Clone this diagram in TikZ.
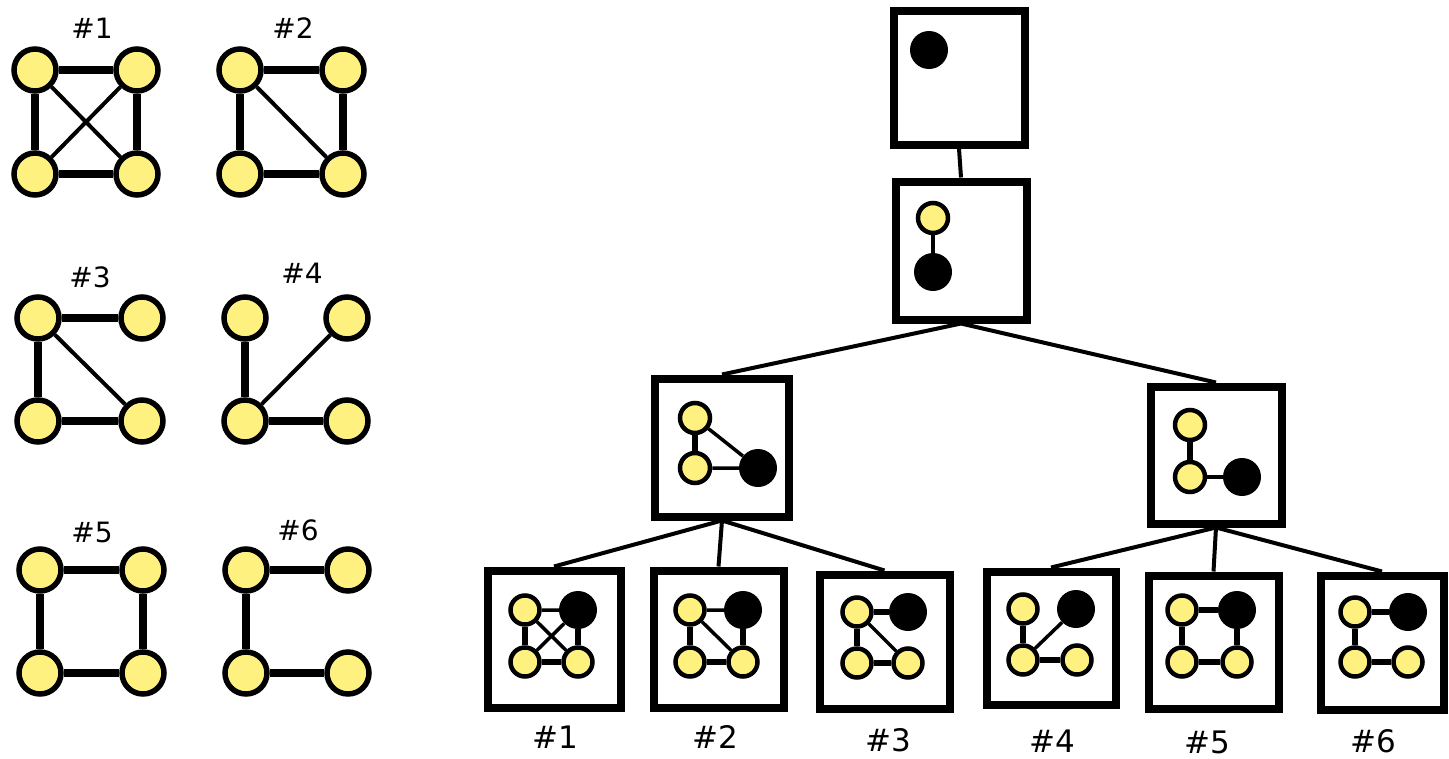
\documentclass[tikz,border=0pt]{standalone}
\usepackage{fontspec}
\setmainfont{DejaVu Sans}
\definecolor{yel}{RGB}{255,241,128}
\begin{document}
\begin{tikzpicture}[x=1pt,y=-1pt,
  bignode/.style={circle,draw,line width=5.5pt,fill=yel,minimum size=42pt,inner sep=0pt},
  smallnode/.style={circle,draw,line width=4.5pt,fill=yel,minimum size=29pt,inner sep=0pt},
  midnode/.style={circle,draw,line width=4.5pt,fill=yel,minimum size=30pt,inner sep=0pt},
  blacknode/.style={circle,fill=black,minimum size=38pt,inner sep=0pt},
  bigthick/.style={line width=7.5pt},
  bigthin/.style={line width=4pt},
  smthick/.style={line width=5.5pt},
  smthin/.style={line width=3.5pt},
  treebox/.style={draw,line width=8pt,rectangle,inner sep=0pt,fill=white},
  conn/.style={line width=4pt},
  lbl/.style={font=\fontsize{28}{30}\selectfont,inner sep=0pt},
  blbl/.style={font=\fontsize{31}{34}\selectfont,inner sep=0pt}]
\useasboundingbox (0,0) rectangle (1449,758);

% ---------- left panel ----------
% #1
\node[lbl] (l1) at (92,28) {\#1};
\node[bignode] (a1) at (35,70) {};
\node[bignode] (b1) at (137,70) {};
\node[bignode] (c1) at (35,174) {};
\node[bignode] (d1) at (137,174) {};
\draw[bigthick] (a1) -- (b1) (c1) -- (d1) (a1) -- (c1) (b1) -- (d1);
\draw[bigthin] (a1) -- (d1) (b1) -- (c1);
% #2
\node[lbl] (l2) at (293,28) {\#2};
\node[bignode] (a2) at (240,70) {};
\node[bignode] (b2) at (343,70) {};
\node[bignode] (c2) at (240,174) {};
\node[bignode] (d2) at (343,174) {};
\draw[bigthick] (a2) -- (b2) (c2) -- (d2) (a2) -- (c2) (b2) -- (d2);
\draw[bigthin] (a2) -- (d2);
% #3
\node[lbl] (l3) at (90,277) {\#3};
\node[bignode] (a3) at (38,318) {};
\node[bignode] (b3) at (142,318) {};
\node[bignode] (c3) at (38,421) {};
\node[bignode] (d3) at (142,421) {};
\draw[bigthick] (a3) -- (b3) (c3) -- (d3) (a3) -- (c3);
\draw[bigthin] (a3) -- (d3);
% #4
\node[lbl] (l4) at (302,273) {\#4};
\node[bignode] (a4) at (245,318) {};
\node[bignode] (b4) at (347,318) {};
\node[bignode] (c4) at (245,421) {};
\node[bignode] (d4) at (347,421) {};
\draw[bigthick] (a4) -- (c4) (c4) -- (d4);
\draw[bigthin] (c4) -- (b4);
% #5
\node[lbl] (l5) at (92,532) {\#5};
\node[bignode] (a5) at (40,570) {};
\node[bignode] (b5) at (143,570) {};
\node[bignode] (c5) at (40,673) {};
\node[bignode] (d5) at (143,673) {};
\draw[bigthick] (a5) -- (b5) (c5) -- (d5) (a5) -- (c5) (b5) -- (d5);
% #6
\node[lbl] (l6) at (298,530) {\#6};
\node[bignode] (a6) at (246,570) {};
\node[bignode] (b6) at (348,570) {};
\node[bignode] (c6) at (246,673) {};
\node[bignode] (d6) at (348,673) {};
\draw[bigthick] (a6) -- (b6) (c6) -- (d6) (a6) -- (c6);

% ---------- tree boxes ----------
\node[treebox,minimum width=131pt,minimum height=134pt] (t0) at (959,77.5) {};
\node[treebox,minimum width=131pt,minimum height=138pt] (t1) at (961,250.5) {};
\node[treebox,minimum width=134pt,minimum height=138pt] (tL) at (722,447.5) {};
\node[treebox,minimum width=131pt,minimum height=137pt] (tR) at (1216,455) {};
\node[treebox,minimum width=133pt,minimum height=137pt] (s1) at (554,639) {};
\node[treebox,minimum width=130pt,minimum height=137pt] (s2) at (718.5,639) {};
\node[treebox,minimum width=130pt,minimum height=134pt] (s3) at (884.5,641.5) {};
\node[treebox,minimum width=129pt,minimum height=133pt] (s4) at (1051,638) {};
\node[treebox,minimum width=130pt,minimum height=133pt] (s5) at (1213.5,642) {};
\node[treebox,minimum width=123pt,minimum height=134pt] (s6) at (1382,642.5) {};

% connectors
\draw[conn] (t0.south) -- (t1.north);
\draw[conn] (t1.south) -- (tL.north);
\draw[conn] (t1.south) -- (tR.north);
\draw[conn] (tL.south) -- (s1.north);
\draw[conn] (tL.south) -- (s2.north);
\draw[conn] (tL.south) -- (s3.north);
\draw[conn] (tR.south) -- (s4.north);
\draw[conn] (tR.south) -- (s5.north);
\draw[conn] (tR.south) -- (s6.north);

% top box content
\node[blacknode] (k0) at (929,50) {};
% second box
\node[midnode] (y1) at (933,218) {};
\node[blacknode] (k1) at (933,272) {};
\draw[smthin] (y1) -- (k1);
% left middle box
\node[midnode] (yLa) at (695,418) {};
\node[midnode] (yLb) at (695,468) {};
\node[blacknode] (kL) at (758,468) {};
\draw[smthick] (yLa) -- (yLb);
\draw[smthin] (yLa) -- (kL) (yLb) -- (kL);
% right middle box
\node[midnode] (yRa) at (1190,425) {};
\node[midnode] (yRb) at (1190,477) {};
\node[blacknode] (kR) at (1242,477) {};
\draw[smthick] (yRa) -- (yRb);
\draw[smthin] (yRb) -- (kR);

% bottom #1
\node[smallnode] (p1a) at (525,610) {};
\node[blacknode] (p1b) at (578,610) {};
\node[smallnode] (p1c) at (525,662) {};
\node[smallnode] (p1d) at (578,662) {};
\draw[smthin] (p1a) -- (p1b) (p1a) -- (p1d) (p1b) -- (p1c);
\draw[smthick] (p1a) -- (p1c) (p1b) -- (p1d) (p1c) -- (p1d);
\node[blbl] (q1) at (555,737) {\#1};
% bottom #2
\node[smallnode] (p2a) at (690,610) {};
\node[blacknode] (p2b) at (743,610) {};
\node[smallnode] (p2c) at (690,662) {};
\node[smallnode] (p2d) at (743,662) {};
\draw[smthin] (p2a) -- (p2b) (p2a) -- (p2d);
\draw[smthick] (p2a) -- (p2c) (p2b) -- (p2d) (p2c) -- (p2d);
\node[blbl] (q2) at (715,737) {\#2};
% bottom #3
\node[smallnode] (p3a) at (857,612) {};
\node[blacknode] (p3b) at (908,612) {};
\node[smallnode] (p3c) at (857,663) {};
\node[smallnode] (p3d) at (908,663) {};
\draw[smthin] (p3a) -- (p3d);
\draw[smthick] (p3a) -- (p3b) (p3a) -- (p3c) (p3c) -- (p3d);
\node[blbl] (q3) at (888,740) {\#3};
% bottom #4
\node[smallnode] (p4a) at (1023,609) {};
\node[blacknode] (p4b) at (1076,609) {};
\node[smallnode] (p4c) at (1023,660) {};
\node[smallnode] (p4d) at (1077,660) {};
\draw[smthin] (p4c) -- (p4b);
\draw[smthick] (p4a) -- (p4c) (p4c) -- (p4d);
\node[blbl] (q4) at (1052,741) {\#4};
% bottom #5
\node[smallnode] (p5a) at (1182,610) {};
\node[blacknode] (p5b) at (1237,610) {};
\node[smallnode] (p5c) at (1182,662) {};
\node[smallnode] (p5d) at (1237,662) {};
\draw[smthick] (p5a) -- (p5b) (p5a) -- (p5c) (p5b) -- (p5d) (p5c) -- (p5d);
\node[blbl] (q5) at (1207,742) {\#5};
% bottom #6
\node[smallnode] (p6a) at (1355,612) {};
\node[blacknode] (p6b) at (1408,612) {};
\node[smallnode] (p6c) at (1355,662) {};
\node[smallnode] (p6d) at (1408,662) {};
\draw[smthick] (p6a) -- (p6b) (p6a) -- (p6c) (p6c) -- (p6d);
\node[blbl] (q6) at (1373,741) {\#6};
\end{tikzpicture}
\end{document}
